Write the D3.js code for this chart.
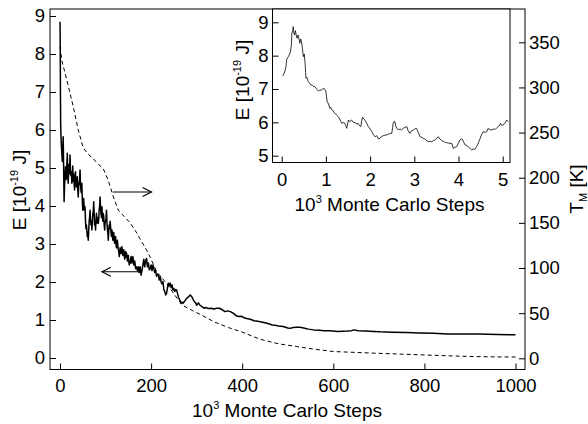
<!DOCTYPE html>
<html lang="en">
<head>
  <meta charset="UTF-8">
  <title>energy vs monte carlo steps</title>
  <script src="https://d3js.org/d3.v7.min.js" charset="utf-8"></script>
  <style>
    body { margin: 0; background: #fff; }
    text { font-family: "Liberation Sans", Arial, sans-serif; fill: #000; }
  </style>
</head>
<body>
</body>
<script>
  // main plot, solid line: energy (left axis), steps in 10^3
  const mainSteps = [0,0.5,1,1.5,2,3,4,5,6,7,8,9,
    10,11,12,13,14,15,16,17,18,19,20,21,22,23,24,25,26,27,28,29,30,31,32,33,34,35,36,37,38,39,40,
    41,42,43,44,45,46,47,48,49,50,51,52,53,54,55,56,57,58,59,60,61,62,63,64,65,66,67,68,69,70,
    71,72,73,74,75,76,77,78,79,80,81,82,83,84,85,86,87,88,89,90,91,92,93,94,95,96,97,98,99,100,
    101,102,103,104,105,106,107,108,109,110,111,112,113,114,115,116,117,118,119,120,121,122,123,124,125,126,127,128,129,130,
    131,132,133,134,135,136,137,138,139,140,141,142,143,144,145,146,147,148,149,150,151,152,153,154,155,156,157,158,159,160,
    161,162,163,164,165,166,167,168,169,170,171,172,173,174,175,176,177,178,179,180,
    182,184,186,188,190,192,194,196,198,200,
    202,204,206,208,210,212,214,216,218,220,222,224,226,228,230,232,234,236,238,240,242,244,246,248,250,252,254,256,258,260,
    262,264,266,268,270,274,278,282,286,290,294,298,300,304,308,312,316,320,326,332,338,344,350,356,362,368,374,380,386,392,398,
    404,410,418,426,434,442,450,458,466,472,480,490,500,505,512,520,527,535,545,557,570,580,593,610,630,640,645,655,670,690,703,
    730,760,790,820,850,880,920,960,1000]
  const mainEnergy = [8.85,8.3,6.9,6.13,5.9,5.6,5.4,5.17,5.5,5.82,5.0,4.11,
    4.55,4.75,5.03,4.85,4.7,5.1,5.39,4.9,4.6,4.95,5.1,4.85,5.34,4.95,4.8,4.9,4.6,4.7,5.05,4.65,4.85,4.6,4.42,4.75,4.9,4.6,4.5,4.65,4.77,4.45,4.24,
    4.5,4.6,4.7,4.95,4.6,4.4,4.35,4.6,4.15,3.89,4.05,4.2,3.9,4.0,3.95,3.6,3.4,3.5,3.35,3.19,3.3,3.1,3.35,3.6,3.7,3.89,3.65,3.5,3.6,3.37,
    3.55,3.8,3.85,4.11,3.8,3.5,3.6,3.37,3.6,3.81,3.55,3.6,3.7,3.54,3.65,3.9,4.0,4.24,3.95,3.8,3.7,3.98,3.75,3.6,3.8,3.72,3.5,3.37,3.55,3.6,
    3.65,3.89,3.6,3.4,3.3,3.1,3.35,3.5,3.4,3.6,3.45,3.3,3.2,3.37,3.25,3.1,3.2,3.3,3.1,3.02,3.15,3.2,3.0,2.9,3.05,3.1,2.95,2.85,2.8,2.67,
    2.75,2.9,2.85,2.75,2.8,2.93,2.8,2.7,2.8,2.85,2.7,2.6,2.7,2.8,2.65,2.76,2.7,2.55,2.6,2.7,2.55,2.45,2.5,2.49,2.6,2.67,2.55,2.5,2.6,2.67,
    2.55,2.45,2.5,2.55,2.45,2.35,2.4,2.4,2.35,2.3,2.35,2.4,2.3,2.25,2.35,2.4,2.3,2.18,2.25,2.3,
    2.45,2.6,2.4,2.55,2.62,2.4,2.5,2.32,2.35,2.45,
    2.3,2.45,2.35,2.25,2.3,2.15,2.2,2.18,2.05,2.14,2.0,1.95,2.01,1.8,1.75,1.66,1.7,1.85,1.97,1.9,1.97,1.85,1.92,1.79,1.83,1.75,1.8,1.79,1.7,1.6,
    1.55,1.5,1.44,1.47,1.44,1.5,1.57,1.61,1.66,1.6,1.5,1.45,1.39,1.45,1.38,1.35,1.31,1.33,1.3,1.31,1.29,1.31,1.31,1.27,1.22,1.24,1.22,1.18,1.12,1.09,1.1,
    1.06,1.04,1.02,0.98,0.97,0.95,0.93,0.9,0.87,0.86,0.84,0.83,0.79,0.78,0.8,0.81,0.81,0.79,0.76,0.74,0.73,0.72,0.72,0.7,0.71,0.72,0.74,0.72,0.71,0.7,0.69,
    0.68,0.67,0.66,0.65,0.63,0.63,0.63,0.62,0.61]

  // main plot, dashed line: temperature (right axis)
  const tempSteps = [0,4,15,29,40,51,62,73,84,95,106,117,128,141,154,167,176,190,198,212,234,252,268,290,310,340,370,400,440,480,520,560,600,650,700,750,800,850,900,950,1000]
  const tempK = [345,330,308,279,253,233,226,221,215,210,197,179,164,157,150,140,132,120,112,96,83,70,59,53,48,40,34,29,21,16,13,10,7.5,6.5,5.5,4.6,3.7,2.8,2,1.6,1.4]

  // inset: energy over the first 5x10^3 steps
  const insetSteps = [0.02,0.05,0.08,0.1,0.11,0.14,0.17,0.2,0.22,0.23,0.25,0.26,0.27,0.29,0.31,0.32,0.34,0.35,0.37,0.38,0.4,0.41,0.43,0.45,0.47,0.49,
    0.51,0.53,0.54,0.55,0.57,0.6,0.63,0.66,0.68,0.71,0.75,0.78,0.8,0.83,0.86,0.9,0.93,0.96,0.98,1.0,1.02,1.03,1.06,1.09,1.11,1.13,1.15,1.18,1.21,1.24,
    1.28,1.31,1.34,1.36,1.39,1.43,1.45,1.47,1.49,1.51,1.54,1.58,1.62,1.66,1.7,1.73,1.76,1.79,1.81,1.83,1.86,1.88,1.92,1.96,2.0,2.04,2.08,2.11,2.15,2.19,
    2.22,2.26,2.3,2.34,2.38,2.41,2.45,2.49,2.51,2.52,2.54,2.56,2.58,2.6,2.64,2.68,2.71,2.75,2.79,2.83,2.86,2.9,2.94,2.98,3.01,3.05,3.09,3.13,3.17,3.2,
    3.24,3.28,3.32,3.36,3.39,3.43,3.47,3.51,3.54,3.58,3.62,3.66,3.7,3.73,3.77,3.81,3.85,3.88,3.92,3.96,4.0,4.03,4.06,4.09,4.12,4.15,4.19,4.22,4.26,4.3,
    4.33,4.37,4.4,4.43,4.46,4.49,4.52,4.56,4.6,4.64,4.67,4.71,4.75,4.79,4.83,4.86,4.9,4.93,4.95,4.98,5.0,5.03,5.05,5.07,5.09,5.12]
  const insetEnergy = [7.39,7.45,7.57,7.7,7.87,7.95,8.02,8.12,8.35,8.68,8.75,8.87,8.72,8.62,8.75,8.67,8.55,8.52,8.62,8.57,8.45,8.37,8.5,8.42,8.2,7.97,
    8.05,7.77,7.5,7.32,7.35,7.22,7.18,7.12,7.12,7.08,7.07,7.02,6.98,6.94,6.96,6.97,7.0,7.02,6.98,6.92,6.7,6.62,6.55,6.42,6.45,6.38,6.37,6.3,6.27,6.22,
    6.17,6.1,6.02,5.97,6.0,5.97,5.9,5.82,5.95,6.07,6.02,6.07,6.0,5.99,5.95,5.97,5.9,5.87,6.05,6.15,6.1,6.07,5.98,5.87,5.8,5.72,5.62,5.57,5.6,5.5,
    5.52,5.58,5.6,5.62,5.62,5.65,5.66,5.67,5.85,5.97,6.02,6.02,5.9,5.82,5.78,5.8,5.77,5.82,5.85,5.87,5.75,5.67,5.75,5.77,5.8,5.82,5.7,5.57,5.55,5.52,
    5.5,5.45,5.42,5.43,5.42,5.45,5.47,5.52,5.57,5.5,5.45,5.43,5.4,5.39,5.38,5.37,5.37,5.22,5.25,5.27,5.38,5.47,5.5,5.49,5.4,5.32,5.3,5.27,5.22,5.17,
    5.2,5.19,5.25,5.32,5.42,5.52,5.62,5.72,5.7,5.72,5.82,5.78,5.77,5.8,5.79,5.83,5.87,5.92,5.97,5.9,5.92,5.95,5.97,6.02,6.07,6.02]

  const xTicks = [0,200,400,600,800,1000]
  const eTicks = [0,1,2,3,4,5,6,7,8,9]
  const tTicks = [0,50,100,150,200,250,300,350]
  const insetXTicks = [0,1,2,3,4,5]
  const insetETicks = [5,6,7,8,9]

  // annotation arrows: [from step, to step, energy]
  const arrowToT = [116, 201, 4.37]
  const arrowToE = [176, 92, 2.27]

  var svg = d3.select('body').append('svg').attr('width', 588).attr('height', 424)

  var x = d3.scaleLinear().domain([0, 1000]).range([60, 515.5])
  var yE = d3.scaleLinear().domain([0, 9]).range([358, 16])
  var yT = d3.scaleLinear().domain([0, 350]).range([358.3, 42.3])
  var fmt = d3.format('d')
  var tickFont = 18.5

  var frame = {left: 50, right: 525, top: 9, bottom: 369.5}

  svg.append('rect')
    .attr('x', frame.left).attr('y', frame.top)
    .attr('width', frame.right - frame.left).attr('height', frame.bottom - frame.top)
    .attr('fill', 'none').attr('stroke', '#000').attr('stroke-width', 1)

  function styleAxis(g, size) {
    g.select('.domain').remove()
    g.selectAll('.tick line').attr('stroke', '#000')
    g.selectAll('.tick text').attr('font-size', size).attr('fill', '#000')
      .attr('font-family', '"Liberation Sans", Arial, sans-serif')
  }

  svg.append('g').attr('transform', 'translate(0,' + frame.bottom + ')')
    .call(d3.axisBottom(x).tickValues(xTicks).tickFormat(fmt).tickSizeInner(-6).tickSizeOuter(0).tickPadding(9))
    .call(g => styleAxis(g, tickFont))
  svg.append('g').attr('transform', 'translate(' + frame.left + ',0)')
    .call(d3.axisLeft(yE).tickValues(eTicks).tickFormat(fmt).tickSizeInner(-6).tickSizeOuter(0).tickPadding(5))
    .call(g => styleAxis(g, tickFont))
  svg.append('g').attr('transform', 'translate(' + frame.right + ',0)')
    .call(d3.axisRight(yT).tickValues(tTicks).tickFormat(fmt).tickSizeInner(-6).tickSizeOuter(0).tickPadding(4))
    .call(g => styleAxis(g, tickFont))

  var lineE = d3.line().x((d, i) => x(mainSteps[i])).y(d => yE(d))
  var lineT = d3.line().x((d, i) => x(tempSteps[i])).y(d => yT(d))

  svg.append('path').attr('d', lineT(tempK))
    .attr('fill', 'none').attr('stroke', '#000').attr('stroke-width', 1)
    .attr('stroke-dasharray', '4,3')
  svg.append('path').attr('d', lineE(mainEnergy))
    .attr('fill', 'none').attr('stroke', '#000').attr('stroke-width', 1.5)
    .attr('stroke-linejoin', 'round')

  function arrow(a) {
    var x0 = x(a[0]), x1 = x(a[1]), y0 = yE(a[2])
    var dir = x1 > x0 ? 1 : -1
    var g = svg.append('g').attr('fill', 'none').attr('stroke', '#000').attr('stroke-width', 1.1)
    g.append('line').attr('x1', x0).attr('y1', y0).attr('x2', x1).attr('y2', y0)
    g.append('path').attr('d', d3.line()([[x1 - dir * 9, y0 - 4.5], [x1, y0], [x1 - dir * 9, y0 + 4.5]]))
  }
  arrow(arrowToT)
  arrow(arrowToE)

  // axis titles
  var xTitle = svg.append('text').attr('x', 287).attr('y', 417).attr('text-anchor', 'middle').attr('font-size', 19)
  xTitle.append('tspan').text('10')
  xTitle.append('tspan').attr('font-size', 11).attr('dy', -8).text('3')
  xTitle.append('tspan').attr('dy', 8).text(' Monte Carlo Steps')

  var eTitle = svg.append('text').attr('transform', 'translate(26,190) rotate(-90)')
    .attr('text-anchor', 'middle').attr('font-size', 19)
  eTitle.append('tspan').text('E [10')
  eTitle.append('tspan').attr('font-size', 11).attr('dy', -8).text('-19')
  eTitle.append('tspan').attr('dy', 8).text(' J]')

  var tTitle = svg.append('text').attr('transform', 'translate(583,189) rotate(-90)')
    .attr('text-anchor', 'middle').attr('font-size', 19)
  tTitle.append('tspan').text('T')
  tTitle.append('tspan').attr('font-size', 11).attr('dy', 4).text('M')
  tTitle.append('tspan').attr('dy', -4).text(' [K]')

  // inset
  var ix = d3.scaleLinear().domain([0, 5]).range([281.7, 502.7])
  var iy = d3.scaleLinear().domain([5, 9]).range([155.7, 22.3])
  var inset = {left: 272.5, right: 510, top: 9, bottom: 162.5}

  svg.append('rect')
    .attr('x', inset.left).attr('y', inset.top)
    .attr('width', inset.right - inset.left).attr('height', inset.bottom - inset.top)
    .attr('fill', '#fff').attr('stroke', '#000').attr('stroke-width', 1)

  svg.append('g').attr('transform', 'translate(0,' + inset.bottom + ')')
    .call(d3.axisBottom(ix).tickValues(insetXTicks).tickFormat(fmt).tickSizeInner(-6).tickSizeOuter(0).tickPadding(10))
    .call(g => styleAxis(g, tickFont))
  svg.append('g').attr('transform', 'translate(' + inset.left + ',0)')
    .call(d3.axisLeft(iy).tickValues(insetETicks).tickFormat(fmt).tickSizeInner(-6).tickSizeOuter(0).tickPadding(4))
    .call(g => styleAxis(g, tickFont))

  var lineInset = d3.line().x((d, i) => ix(insetSteps[i])).y(d => iy(d))
  svg.append('path').attr('d', lineInset(insetEnergy))
    .attr('fill', 'none').attr('stroke', '#000').attr('stroke-width', 0.8)

  var ixTitle = svg.append('text').attr('x', 389.5).attr('y', 211).attr('text-anchor', 'middle').attr('font-size', 19)
  ixTitle.append('tspan').text('10')
  ixTitle.append('tspan').attr('font-size', 11).attr('dy', -8).text('3')
  ixTitle.append('tspan').attr('dy', 8).text(' Monte Carlo Steps')

  var iyTitle = svg.append('text').attr('transform', 'translate(249,80) rotate(-90)')
    .attr('text-anchor', 'middle').attr('font-size', 19)
  iyTitle.append('tspan').text('E [10')
  iyTitle.append('tspan').attr('font-size', 11).attr('dy', -8).text('-19')
  iyTitle.append('tspan').attr('dy', 8).text(' J]')
</script>
</html>
